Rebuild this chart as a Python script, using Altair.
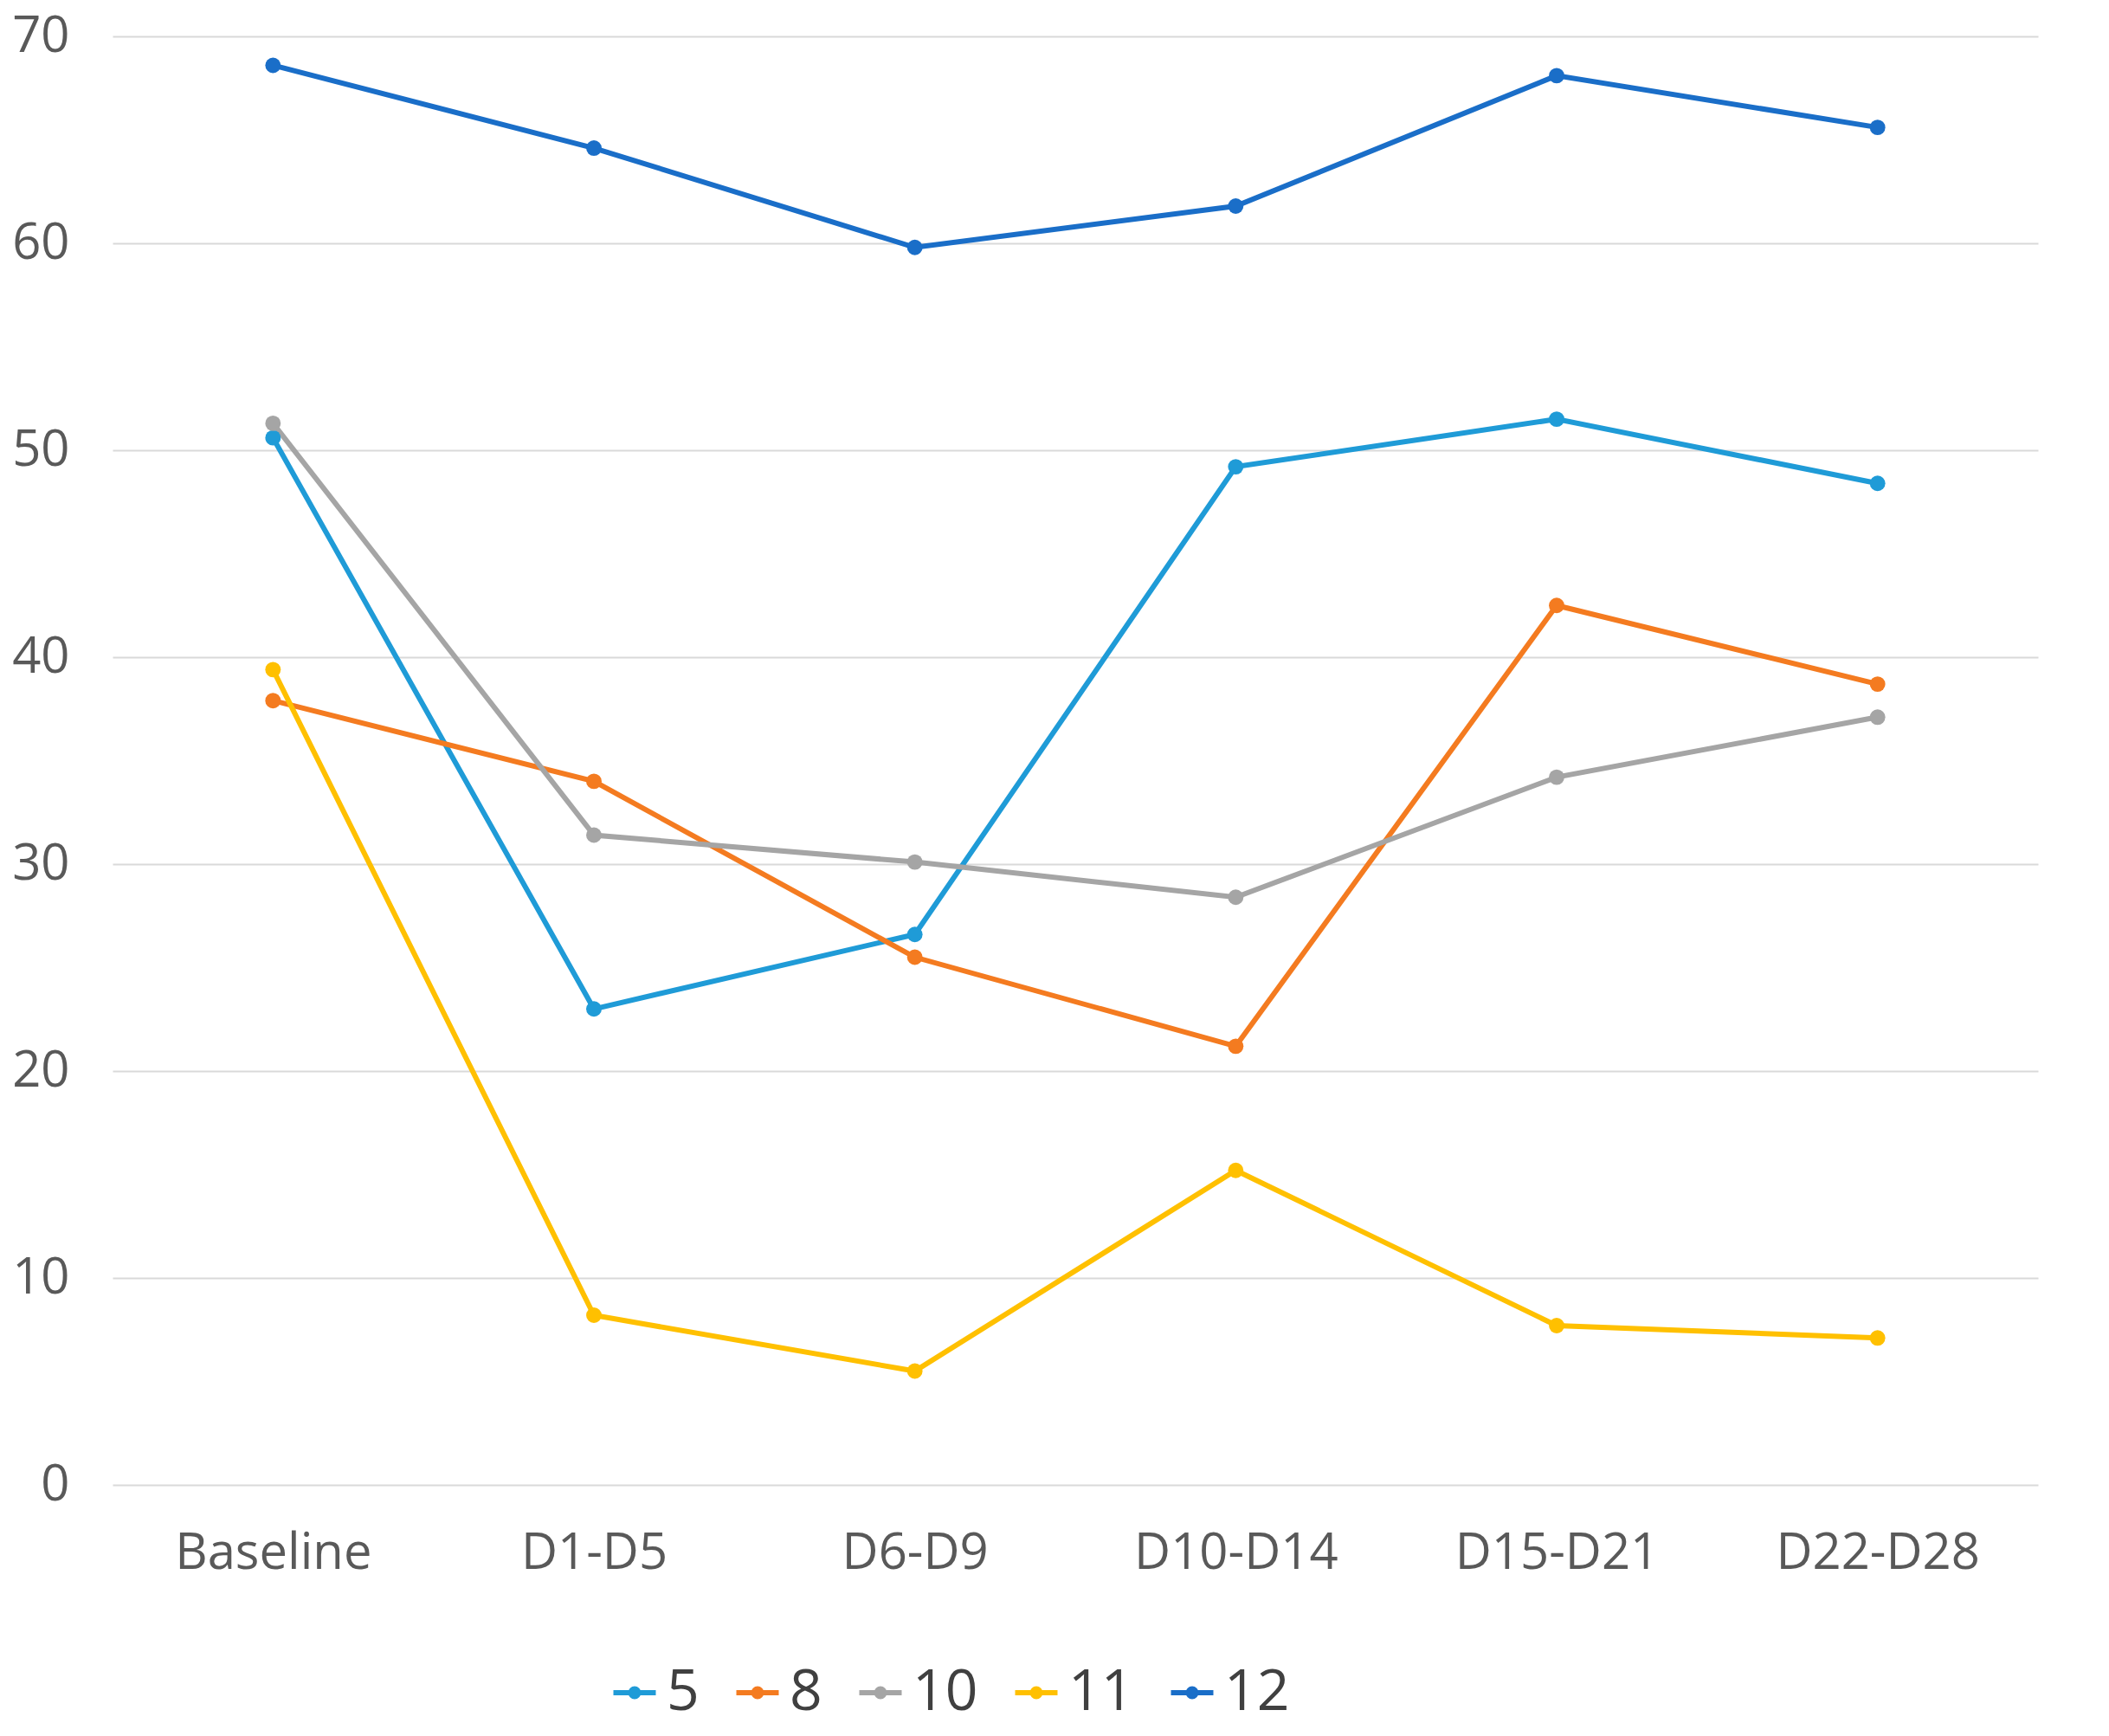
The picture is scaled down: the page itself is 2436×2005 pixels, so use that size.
import pandas as pd
import altair as alt

periods = ["Baseline", "D1-D5", "D6-D9", "D10-D14", "D15-D21", "D22-D28"]
series_names = ["5", "8", "10", "11", "12"]
s5 = [50.6, 23.0, 26.6, 49.2, 51.5, 48.4]
s8 = [37.9, 34.0, 25.5, 21.2, 42.5, 38.7]
s10 = [51.3, 31.4, 30.1, 28.4, 34.2, 37.1]
s11 = [39.4, 8.2, 5.5, 15.2, 7.7, 7.1]
s12 = [68.6, 64.6, 59.8, 61.8, 68.1, 65.6]
colors = ["#1F9BD7", "#F47B20", "#A5A5A5", "#FFC000", "#1A6EC8"]

rows = []
for name, vals in zip(series_names, [s5, s8, s10, s11, s12]):
    for p, v in zip(periods, vals):
        rows.append({"period": p, "series": name, "value": v})
df = pd.DataFrame(rows)

# line with a dot in the middle, like the spreadsheet legend
line_dot = "M-1,0L1,0M0.18,0A0.18,0.18 0 1 1 -0.18,0A0.18,0.18 0 1 1 0.18,0"

chart = alt.Chart(df).mark_line(strokeWidth=6, point=alt.OverlayMarkDef(size=320, filled=True)).encode(
    x=alt.X("period:N", sort=periods, title=None,
            axis=alt.Axis(labelAngle=0, domain=False, ticks=False, labelPadding=50, labelLimit=0)),
    y=alt.Y("value:Q", title=None, scale=alt.Scale(domain=[0, 70]),
            axis=alt.Axis(values=list(range(0, 71, 10)), domain=False, ticks=False, labelPadding=50)),
    color=alt.Color("series:N", sort=series_names,
                    scale=alt.Scale(domain=series_names, range=colors),
                    legend=alt.Legend(orient="none", legendX=570, legendY=1880, title=None,
                                      direction="horizontal",
                                      labelFontSize=66, symbolSize=2400, symbolStrokeWidth=6,
                                      symbolType=line_dot, columnPadding=30, labelOffset=4,
                                      labelColor="#404040")),
).properties(width=2224, height=1673).configure_view(stroke=None).configure_axis(
    labelFont="Open Sans", labelFontSize=58, labelColor="#595959",
    gridColor="#D9D9D9", gridWidth=2,
).configure_legend(labelFont="Open Sans")

chart.save("out.html", embed_options={"renderer": "svg", "actions": False})
